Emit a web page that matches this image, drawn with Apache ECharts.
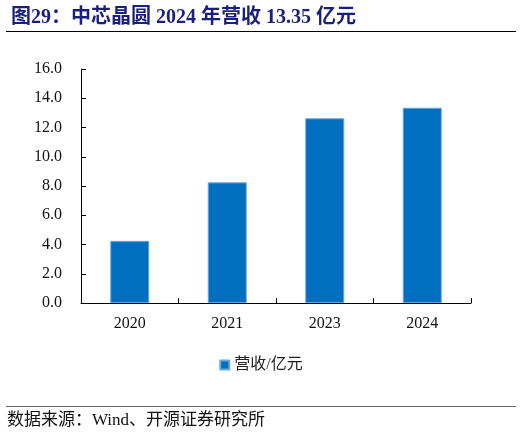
<!DOCTYPE html>
<html>
<head>
<meta charset="utf-8">
<script src="https://cdn.jsdelivr.net/npm/echarts@6/dist/echarts.min.js"></script>
<style>
  html, body { margin: 0; padding: 0; background: #fff; }
  #chart { width: 522px; height: 436px; }
</style>
</head>
<body>
<div id="chart"></div>
<script>
// Data
const years = ['2020', '2021', '2023', '2024'];
const revenue = [4.25, 8.25, 12.63, 13.35];
const seriesName = '营收/亿元';
const titleText = '图29：中芯晶圆 2024 年营收 13.35 亿元';
const sourceText = '数据来源：Wind、开源证券研究所';

const serif = '"Liberation Serif", "Times New Roman", "Noto Sans CJK SC", serif';

const chart = echarts.init(document.getElementById('chart'));

chart.setOption({
  animation: false,
  title: {
    text: titleText,
    left: 6,
    top: 3,
    textStyle: { fontFamily: serif, fontSize: 20, fontWeight: 'bold', color: '#1b1f7c' }
  },
  grid: { left: 81, right: 51, top: 69, bottom: 133, containLabel: false },
  legend: {
    data: [seriesName],
    top: 352,
    left: 'center',
    itemWidth: 9,
    itemHeight: 9,
    itemGap: 6,
    icon: 'rect',
    textStyle: { fontFamily: serif, fontSize: 16, color: '#222' }
  },
  xAxis: {
    type: 'category',
    data: years,
    axisLine: { lineStyle: { color: '#000', width: 1 } },
    axisTick: { show: true, inside: true, length: 5, lineStyle: { color: '#000' } },
    axisLabel: { fontFamily: serif, fontSize: 16, color: '#111', margin: 13 }
  },
  yAxis: {
    type: 'value',
    min: 0,
    max: 16,
    interval: 2,
    axisLine: { show: true, lineStyle: { color: '#000', width: 1 } },
    axisTick: { show: true, inside: true, length: 5, lineStyle: { color: '#000' } },
    splitLine: { show: false },
    axisLabel: {
      fontFamily: serif, fontSize: 16, color: '#111', margin: 19,
      formatter: v => v.toFixed(1)
    }
  },
  series: [{
    name: seriesName,
    type: 'bar',
    data: revenue,
    barWidth: 39,
    itemStyle: { color: '#006fc0', borderColor: '#6aa6dc', borderWidth: 1 }
  }],
  graphic: [
    { type: 'line', shape: { x1: 6, y1: 31.5, x2: 516, y2: 31.5 }, style: { stroke: '#000', lineWidth: 1 } },
    { type: 'line', shape: { x1: 6, y1: 406.5, x2: 516, y2: 406.5 }, style: { stroke: '#666', lineWidth: 1 } },
    {
      type: 'text', left: 7, top: 412,
      style: { text: sourceText, font: '17px ' + serif, fill: '#111' }
    }
  ]
});

window.addEventListener('resize', () => chart.resize());
</script>
</body>
</html>
